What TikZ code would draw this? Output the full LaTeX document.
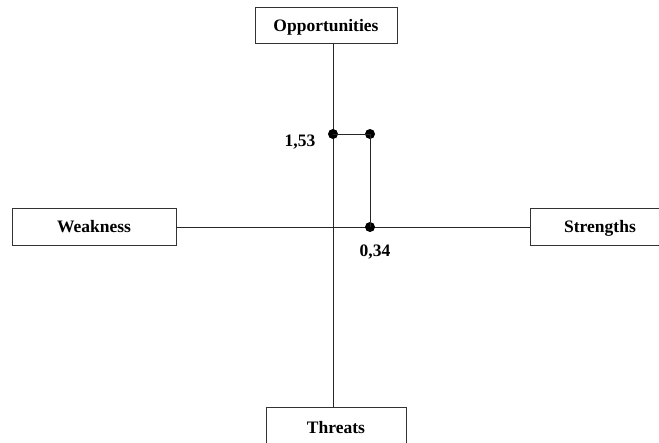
\documentclass[tikz,border=0pt]{standalone}
\usepackage{fontspec}
\setmainfont{Liberation Serif}
\begin{document}
\begin{tikzpicture}[x=1pt,y=-1pt,
  lbl/.style={draw=black!80,line width=0.8pt,fill=white,font=\fontsize{17.5}{19}\selectfont\bfseries,inner sep=0pt,text depth=0pt},
  dotn/.style={circle,fill=black,inner sep=0pt,minimum size=10pt},
  val/.style={font=\fontsize{17.5}{19}\selectfont\bfseries,inner sep=0pt},
  axis/.style={draw=black!85,line width=0.8pt}]
\clip (0,0) rectangle (659,443);
\fill[white] (0,0) rectangle (659,443);
\coordinate (c) at (333,227);
\node[lbl,minimum width=142pt,minimum height=36pt] (opp) at (326,25) {Opportunities};
\node[lbl,minimum width=164pt,minimum height=37pt] (wea) at (94,226.5) {Weakness};
\node[lbl,minimum width=140pt,minimum height=37pt] (str) at (600,226.5) {Strengths};
\node[lbl,minimum width=140pt,minimum height=40pt] (thr) at (336,427) {Threats};
\draw[axis] (c |- opp.south) -- (c |- thr.north);
\draw[axis] (wea.east |- c) -- (str.west |- c);
\node[dotn] (d1) at (333,134) {};
\node[dotn] (d2) at (370,134) {};
\node[dotn] (d3) at (370,227) {};
\draw[axis] (d1.center) -- (d2.center) -- (d3.center);
\node[val] (v1) at (300,142) {1,53};
\node[val] (v2) at (375,252) {0,34};
\end{tikzpicture}
\end{document}
